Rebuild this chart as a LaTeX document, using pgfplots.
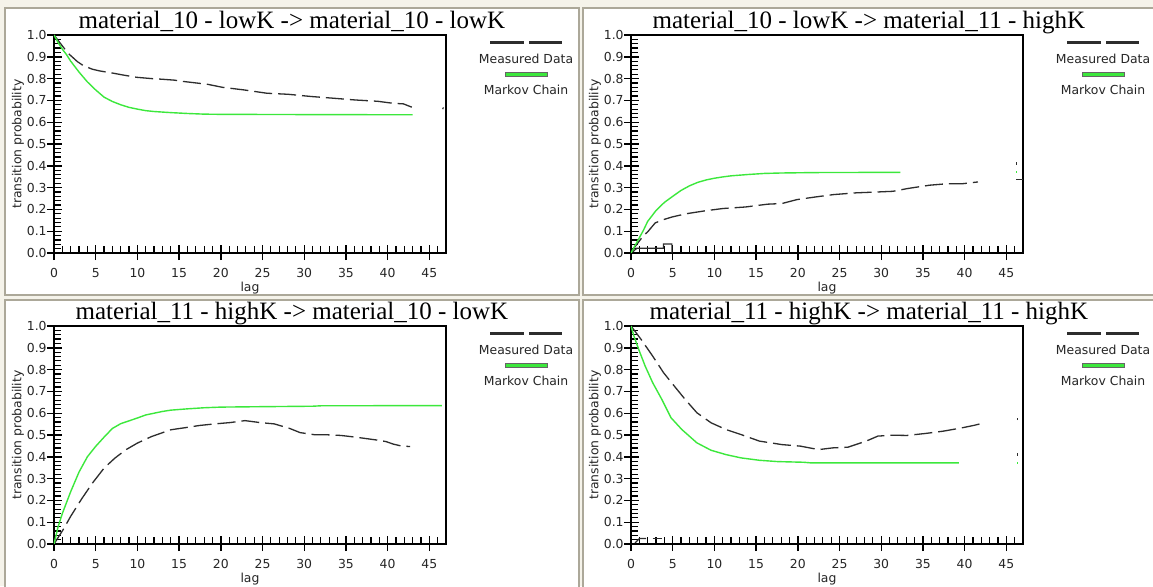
\documentclass[border=0pt]{standalone}
\usepackage{fontspec}
\setmainfont{Liberation Serif}
\newfontfamily\dvs{DejaVu Sans}
\usepackage{pgfplots}
\pgfplotsset{compat=1.18}
\definecolor{mcgreen}{RGB}{60,232,60}
\definecolor{meas}{RGB}{45,45,45}
\definecolor{bgbeige}{RGB}{245,243,234}
\definecolor{framec}{RGB}{172,168,153}
\newcommand{\smallfont}{\dvs\fontsize{6.2}{7}\selectfont}
\pgfplotsset{
  base/.style={
    scale only axis, width=196pt, height=109pt,
    xmin=0, xmax=47, ymin=0, ymax=1,
    xtick={0,5,10,15,20,25,30,35,40,45},
    ytick={0,0.1,0.2,0.3,0.4,0.5,0.6,0.7,0.8,0.9,1.0},
    xtick pos=bottom, ytick pos=left,
  },
  panel/.style={
    base,
    clip=false,
    axis line style={line width=0.8pt},
    minor xtick={0,1,...,46},
    minor ytick={0,0.02,...,1.0},
    tick align=inside, major tick length=4pt, minor tick length=3.6pt,
    tick style={line width=0.7pt, black},
    minor tick style={line width=0.6pt, black},
    /pgf/number format/assume math mode=true,
    xticklabel style={font=\smallfont, text=black!85, anchor=center, yshift=-10pt, inner sep=0pt},
    yticklabel style={font=\smallfont, text=black!85, anchor=east, xshift=-3.5pt, inner sep=0pt,
      /pgf/number format/fixed, /pgf/number format/fixed zerofill, /pgf/number format/precision=1},
    xlabel={lag},
    ylabel={transition probability},
    xlabel style={font=\smallfont, text=black!85, at={(axis description cs:0.5,-0.162)}, anchor=center, inner sep=0pt},
    ylabel style={font=\smallfont, text=black!85, at={(axis description cs:-0.092,0.5)}, anchor=center, rotate=0},
    every axis title shift=0pt,
    title style={font=\fontsize{12.5}{14}\selectfont, at={(axis description cs:0.607,1)}, anchor=base, yshift=3.4pt, inner sep=0pt},
  },
  outer/.style={
    base,
    axis line style={draw=none},
    tick align=outside, major tick length=3.5pt,
    tick style={line width=0.7pt, black},
    xticklabels={}, yticklabels={},
  },
  measured/.style={meas, line width=0.65pt, dash pattern=on 9pt off 3pt},
  markov/.style={mcgreen, line width=0.7pt},
}
\newcommand{\mylegend}{%
  \draw[meas, line width=1.5pt] (axis cs:52.3,0.965) -- (axis cs:56.3,0.965);
  \draw[meas, line width=1.5pt] (axis cs:57.0,0.965) -- (axis cs:60.9,0.965);
  \node[font=\smallfont, text=black!85] at (axis cs:56.6,0.89) {Measured Data};
  \filldraw[fill=mcgreen, draw=black!60, line width=0.4pt] (axis cs:54.1,0.811) rectangle (axis cs:59.1,0.829);
  \node[font=\smallfont, text=black!85] at (axis cs:56.6,0.748) {Markov Chain};
}
\newcommand{\outerticks}[1]{\begin{axis}[outer, at={#1}, anchor=south west]\end{axis}}
\begin{document}
\begin{tikzpicture}
\useasboundingbox (0,0) rectangle (576.5pt,293pt);
\fill[bgbeige] (0,0) rectangle (576.5pt,293pt);
\filldraw[fill=white, draw=framec, line width=0.6pt] (2.5pt,145.5pt) rectangle (289.5pt,289pt);
\filldraw[fill=white, draw=framec, line width=0.6pt] (291.5pt,145.5pt) rectangle (578pt,289pt);
\filldraw[fill=white, draw=framec, line width=0.6pt] (2.5pt,-2pt) rectangle (289.5pt,143pt);
\filldraw[fill=white, draw=framec, line width=0.6pt] (291.5pt,-2pt) rectangle (578pt,143pt);

% ---------- top left ----------
\begin{axis}[panel, at={(27pt,166.5pt)}, anchor=south west,
  title={material\_10 - lowK -> material\_10 - lowK}]
\mylegend
\addplot[measured] coordinates {
(0,1.0)(1,0.95)(1.7,0.916)(2.8,0.878)(3.5,0.86)(4.6,0.843)(5.5,0.835)(6.8,0.827)(8.2,0.817)(9.9,0.806)
(11.7,0.80)(13,0.797)(14.4,0.793)(15.5,0.787)(16.6,0.782)(18.4,0.774)(20.2,0.76)(22.8,0.748)(25.5,0.733)
(28.1,0.728)(30.8,0.718)(33.5,0.71)(36.1,0.702)(38.8,0.696)(40.6,0.687)(41.9,0.684)(42.9,0.669)};
\addplot[meas, line width=0.6pt] coordinates {(46.6,0.66)(46.7,0.668)};
\addplot[markov] coordinates {
(0,1.0)(0.5,0.965)(1,0.935)(1.5,0.91)(2,0.88)(3,0.83)(4,0.785)(5,0.748)(6,0.715)(7,0.695)(8,0.68)
(9,0.668)(10,0.66)(11,0.653)(12,0.649)(14,0.644)(16,0.64)(18,0.637)(20,0.636)(30,0.635)(43,0.634)};
\end{axis}
\outerticks{(27pt,166.5pt)}

% ---------- top right ----------
\begin{axis}[panel, at={(315.5pt,166.5pt)}, anchor=south west,
  title={material\_10 - lowK -> material\_11 - highK}]
\mylegend
\addplot[meas, line width=0.6pt] coordinates {(0.2,0.005)(0.7,0.022)(3.9,0.022)(3.9,0.041)(4.9,0.041)(4.9,0.0)};
\addplot[measured] coordinates {
(0,0)(0.5,0.03)(1,0.055)(1.5,0.08)(2,0.097)(2.9,0.138)(3.8,0.152)(4.9,0.165)(6.6,0.18)(8.8,0.193)
(11,0.204)(13.7,0.211)(16.4,0.224)(18.1,0.227)(19.9,0.245)(22.1,0.257)(24.3,0.268)(27,0.276)(29.6,0.28)
(31.4,0.283)(33.2,0.296)(35.8,0.311)(38,0.318)(39.8,0.318)(41.6,0.326)};
\addplot[meas, line width=0.6pt] coordinates {(46.2,0.404)(46.2,0.419)};
\addplot[meas, line width=0.6pt] coordinates {(46.2,0.338)(47,0.338)};
\addplot[mcgreen, line width=0.6pt] coordinates {(46.2,0.368)(46.2,0.376)};
\addplot[markov] coordinates {
(0,0)(0.5,0.035)(1,0.07)(1.5,0.105)(2,0.145)(3,0.195)(4,0.232)(5,0.26)(6,0.287)(7,0.308)(8,0.324)
(9,0.335)(10,0.343)(11,0.349)(12,0.354)(14,0.36)(16,0.365)(18,0.367)(22,0.369)(32.3,0.37)};
\end{axis}
\outerticks{(315.5pt,166.5pt)}

% ---------- bottom left ----------
\begin{axis}[panel, at={(27pt,21pt)}, anchor=south west,
  title={material\_11 - highK -> material\_10 - lowK}]
\mylegend
\addplot[measured] coordinates {
(0,0)(1.1,0.066)(2.0,0.127)(3.3,0.206)(4.6,0.279)(6.0,0.348)(7.3,0.394)(8.6,0.432)(10.0,0.463)
(11.7,0.493)(14.0,0.524)(15.8,0.534)(17.5,0.544)(19.3,0.551)(21.1,0.557)(22.9,0.566)(24.7,0.557)
(26.4,0.551)(28.2,0.531)(29.5,0.511)(31.3,0.501)(32.7,0.501)(34.4,0.498)(36.2,0.49)(38.5,0.478)
(39.8,0.47)(40.7,0.458)(41.6,0.45)(42.7,0.447)};
\addplot[markov] coordinates {
(0,0)(0.5,0.08)(1,0.14)(1.5,0.19)(2,0.24)(3,0.33)(4,0.40)(5,0.448)(6,0.49)(7,0.53)(8,0.552)
(9,0.565)(10,0.578)(11,0.592)(12,0.6)(13,0.608)(14,0.614)(16,0.62)(18,0.625)(20,0.628)(25,0.63)
(31,0.632)(32,0.634)(46.5,0.635)};
\end{axis}
\outerticks{(27pt,21pt)}

% ---------- bottom right ----------
\begin{axis}[panel, at={(315.5pt,21pt)}, anchor=south west,
  title={material\_11 - highK -> material\_11 - highK}]
\mylegend
\addplot[meas, line width=0.6pt] coordinates {(0.5,0.005)(1.0,0.025)(1.8,0.025)};
\addplot[meas, line width=0.6pt] coordinates {(2.6,0.027)(3.7,0.027)};
\addplot[measured] coordinates {
(0,1.0)(1.2,0.939)(2.6,0.862)(3.9,0.786)(5.2,0.724)(6.5,0.663)(7.9,0.602)(9.6,0.556)(11.4,0.525)
(13.2,0.502)(15.4,0.472)(18.1,0.456)(20.3,0.449)(22.5,0.433)(24.2,0.441)(26,0.444)(28.2,0.472)
(29.6,0.495)(31.3,0.499)(33.1,0.498)(35.3,0.507)(37.5,0.518)(39.7,0.533)(41.1,0.544)(42.4,0.556)};
\addplot[meas, line width=0.6pt] coordinates {(46.3,0.568)(46.3,0.578)};
\addplot[meas, line width=0.6pt] coordinates {(46.3,0.405)(46.3,0.416)};
\addplot[mcgreen, line width=0.6pt] coordinates {(46.3,0.368)(46.3,0.376)};
\addplot[markov] coordinates {
(0,1.0)(0.35,0.954)(1.0,0.885)(1.7,0.816)(2.6,0.74)(3.7,0.663)(4.8,0.579)(6.1,0.525)(7.9,0.464)
(9.6,0.43)(11.4,0.41)(13.2,0.395)(15.4,0.384)(17.6,0.378)(20.7,0.375)(21.6,0.372)(39.3,0.372)};
\end{axis}
\outerticks{(315.5pt,21pt)}
\end{tikzpicture}
\end{document}
